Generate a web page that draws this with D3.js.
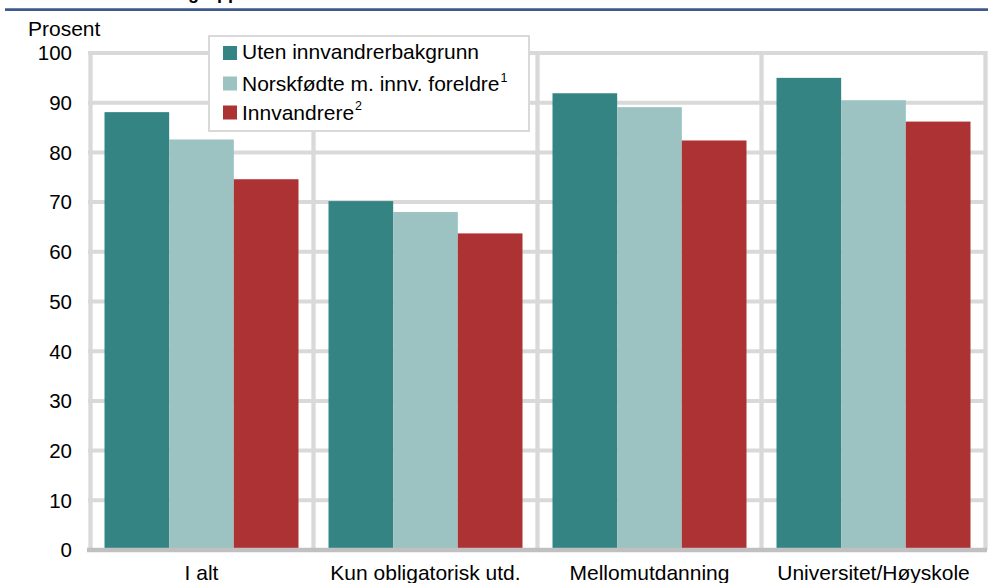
<!DOCTYPE html>
<html>
<head>
<meta charset="utf-8">
<script src="https://cdn.jsdelivr.net/npm/d3@7"></script>
<style>
  body { margin: 0; background: #fff; }
  text { font-family: "Liberation Sans", Arial, sans-serif; fill: #000; }
</style>
</head>
<body>
<div id="chart"></div>
<script>

// data
var categories = ["I alt", "Kun obligatorisk utd.", "Mellomutdanning", "Universitet/Høyskole"];
var seriesNames = ["Uten innvandrerbakgrunn", "Norskfødte m. innv. foreldre", "Innvandrere"];
var seriesSup = ["", "1", "2"];
var uten = [88.1, 70.2, 91.9, 95.0];
var norskfodte = [82.6, 68.0, 89.1, 90.5];
var innvandrere = [74.6, 63.7, 82.4, 86.2];
var yTicks = [0, 10, 20, 30, 40, 50, 60, 70, 80, 90, 100];

var seriesValues = [uten, norskfodte, innvandrere],
    colors = ["#358484", "#9cc2c2", "#ad3234"],
    width = 988, height = 583,
    margin = {top: 53, right: 3, bottom: 33, left: 89.5},
    grid = "#d9d9d9",
    fontSize = "21px";

var svg = d3.select("#chart").append("svg")
    .attr("width", width)
    .attr("height", height);

// cut-off title and blue rule at the top
svg.append("text")
    .attr("x", 249).attr("y", -1)
    .attr("text-anchor", "end")
    .style("font-size", "18px")
    .style("font-weight", "bold")
    .text("Innvandrergruppe");
svg.append("line")
    .attr("x1", 5).attr("x2", width)
    .attr("y1", 9.7).attr("y2", 9.7)
    .attr("stroke", "#3e5a8c")
    .attr("stroke-width", 2.7);

var x = d3.scaleBand()
    .domain(categories)
    .range([margin.left, width - margin.right + 0.5])
    .paddingInner(0).paddingOuter(0);

var xs = d3.scaleBand()
    .domain(d3.range(seriesNames.length))
    .range([0, x.bandwidth()])
    .paddingInner(0)
    .paddingOuter(0.232);

var y = d3.scaleLinear()
    .domain([0, 100])
    .range([height - margin.bottom, margin.top]);

// horizontal grid
svg.append("g")
    .selectAll("line")
    .data(yTicks.filter(function(d) { return d > 0; }))
    .enter().append("line")
    .attr("x1", margin.left - 1.5)
    .attr("x2", width - margin.right + 2)
    .attr("y1", function(d) { return y(d); })
    .attr("y2", function(d) { return y(d); })
    .attr("stroke", grid)
    .attr("stroke-width", 4);

// vertical lines: left axis and category separators
var seps = [categories[0]].concat(categories).map(function(c, i) {
    return i === 0 ? x(c) + 1 : x(c) + x.bandwidth();
});
svg.append("g")
    .selectAll("line")
    .data(seps)
    .enter().append("line")
    .attr("x1", function(d) { return d; })
    .attr("x2", function(d) { return d; })
    .attr("y1", y(100) - 2)
    .attr("y2", y(0))
    .attr("stroke", grid)
    .attr("stroke-width", 4.3);

// y tick labels
svg.append("g")
    .selectAll("text")
    .data(yTicks)
    .enter().append("text")
    .attr("x", 72)
    .attr("y", function(d) { return y(d); })
    .attr("dy", "0.36em")
    .attr("text-anchor", "end")
    .style("font-size", "20.5px")
    .text(function(d) { return d; });

svg.append("text")
    .attr("x", 28).attr("y", 36)
    .style("font-size", fontSize)
    .text("Prosent");

// bars
var groups = svg.append("g")
    .selectAll("g")
    .data(categories)
    .enter().append("g")
    .attr("transform", function(d) { return "translate(" + x(d) + ",0)"; });

groups.selectAll("rect")
    .data(function(d, i) {
        return seriesValues.map(function(vals, s) { return {s: s, value: vals[i]}; });
    })
    .enter().append("rect")
    .attr("x", function(d) { return xs(d.s); })
    .attr("y", function(d) { return y(d.value); })
    .attr("width", xs.bandwidth())
    .attr("height", function(d) { return y(0) - 2 - y(d.value); })
    .style("fill", function(d) { return colors[d.s]; });

// bottom axis
svg.append("line")
    .attr("x1", margin.left - 2.5)
    .attr("x2", width - margin.right + 2)
    .attr("y1", y(0)).attr("y2", y(0))
    .attr("stroke", "#c0c0c0")
    .attr("stroke-width", 4.5);

svg.append("g")
    .selectAll("text")
    .data(categories)
    .enter().append("text")
    .attr("x", function(d) { return x(d) + x.bandwidth() / 2; })
    .attr("y", 580)
    .attr("text-anchor", "middle")
    .style("font-size", fontSize)
    .text(function(d) { return d; });

// legend
var legend = svg.append("g");
legend.append("rect")
    .attr("x", 209).attr("y", 36)
    .attr("width", 320).attr("height", 95)
    .attr("fill", "#fff")
    .attr("stroke", grid)
    .attr("stroke-width", 2);

var rowSquare = [46, 76.5, 105.5],
    rowText = [58.7, 91.3, 119.7];

var items = legend.selectAll("g.item")
    .data(seriesNames)
    .enter().append("g")
    .attr("class", "item");

items.append("rect")
    .attr("x", 223)
    .attr("y", function(d, i) { return rowSquare[i]; })
    .attr("width", 14).attr("height", 14)
    .style("fill", function(d, i) { return colors[i]; });

var labels = items.append("text")
    .attr("x", 242)
    .attr("y", function(d, i) { return rowText[i]; })
    .style("font-size", fontSize)
    .text(function(d) { return d; });

labels.append("tspan")
    .attr("dx", 1)
    .attr("dy", -9.5)
    .style("font-size", "12.5px")
    .text(function(d, i) { return seriesSup[i]; });

</script>
</body>
</html>
